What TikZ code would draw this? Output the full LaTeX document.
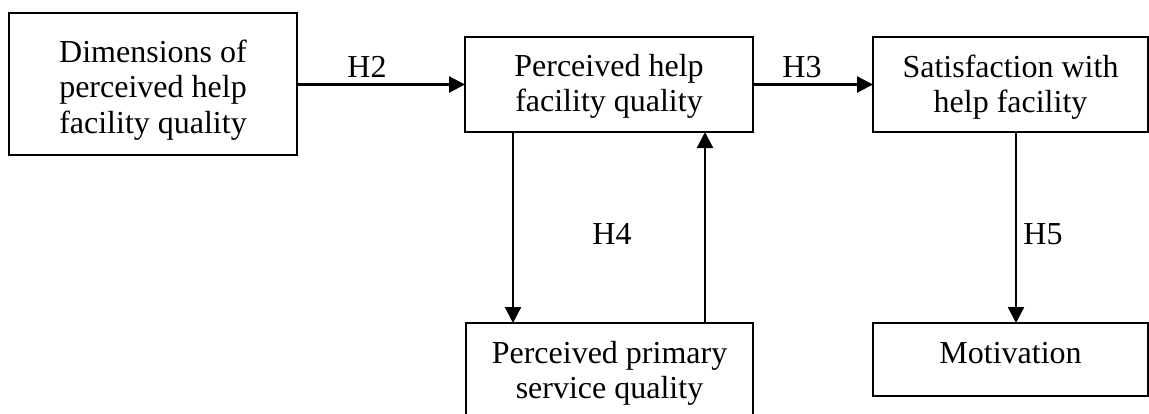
\documentclass[tikz,border=0pt]{standalone}
\usepackage{fontspec}
\setmainfont{Liberation Serif}
\usetikzlibrary{arrows.meta,calc}
\begin{document}
\begin{tikzpicture}[x=0.5pt,y=-0.5pt,
  txt/.style={font=\fontsize{16}{17.75}\selectfont},
  box/.style={txt, draw, line width=1.2pt, align=center, inner sep=0pt, outer sep=0pt, anchor=north west},
  arr/.style={line width=1.1pt, -{Triangle[length=8pt,width=8pt]}},
  lbl/.style={txt, inner sep=0pt}]
\useasboundingbox (0,0) rectangle (1149,413);
\clip (0,0) rectangle (1149,413);
\node[box, minimum width=144pt, text height=60pt, text depth=11pt] (A) at (9,13)
  {Dimensions of\\perceived help\\facility quality};
\node[box, minimum width=144pt, text height=37.25pt, text depth=10.25pt] (B) at (465,37)
  {Perceived help\\facility quality};
\node[box, minimum width=137.5pt, text height=37.75pt, text depth=9.75pt] (C) at (873,37)
  {Satisfaction with\\help facility};
\node[box, minimum width=143.5pt, text height=37.75pt, text depth=9.75pt] (D) at (466,323)
  {Perceived primary\\service quality};
\node[box, minimum width=137.5pt, text height=20pt, text depth=16.5pt] (E) at (873,323)
  {Motivation};
\draw[arr] (A.east |- B.west) -- (B.west);
\draw[arr] (B.east) -- (C.west);
\draw[arr] ([xshift=24pt]B.south west) -- ([xshift=24pt]B.south west |- D.north);
\draw[arr] ([xshift=-24pt]B.south east |- D.north) -- ([xshift=-24pt]B.south east);
\draw[arr] ([xshift=71.5pt]C.south west) -- ([xshift=71.5pt]C.south west |- E.north);
\node[lbl] (h2) at (367,67) {H2};
\node[lbl] (h3) at (802,67) {H3};
\node[lbl] (h4) at (612,234) {H4};
\node[lbl] (h5) at (1043,234) {H5};
\end{tikzpicture}
\end{document}
